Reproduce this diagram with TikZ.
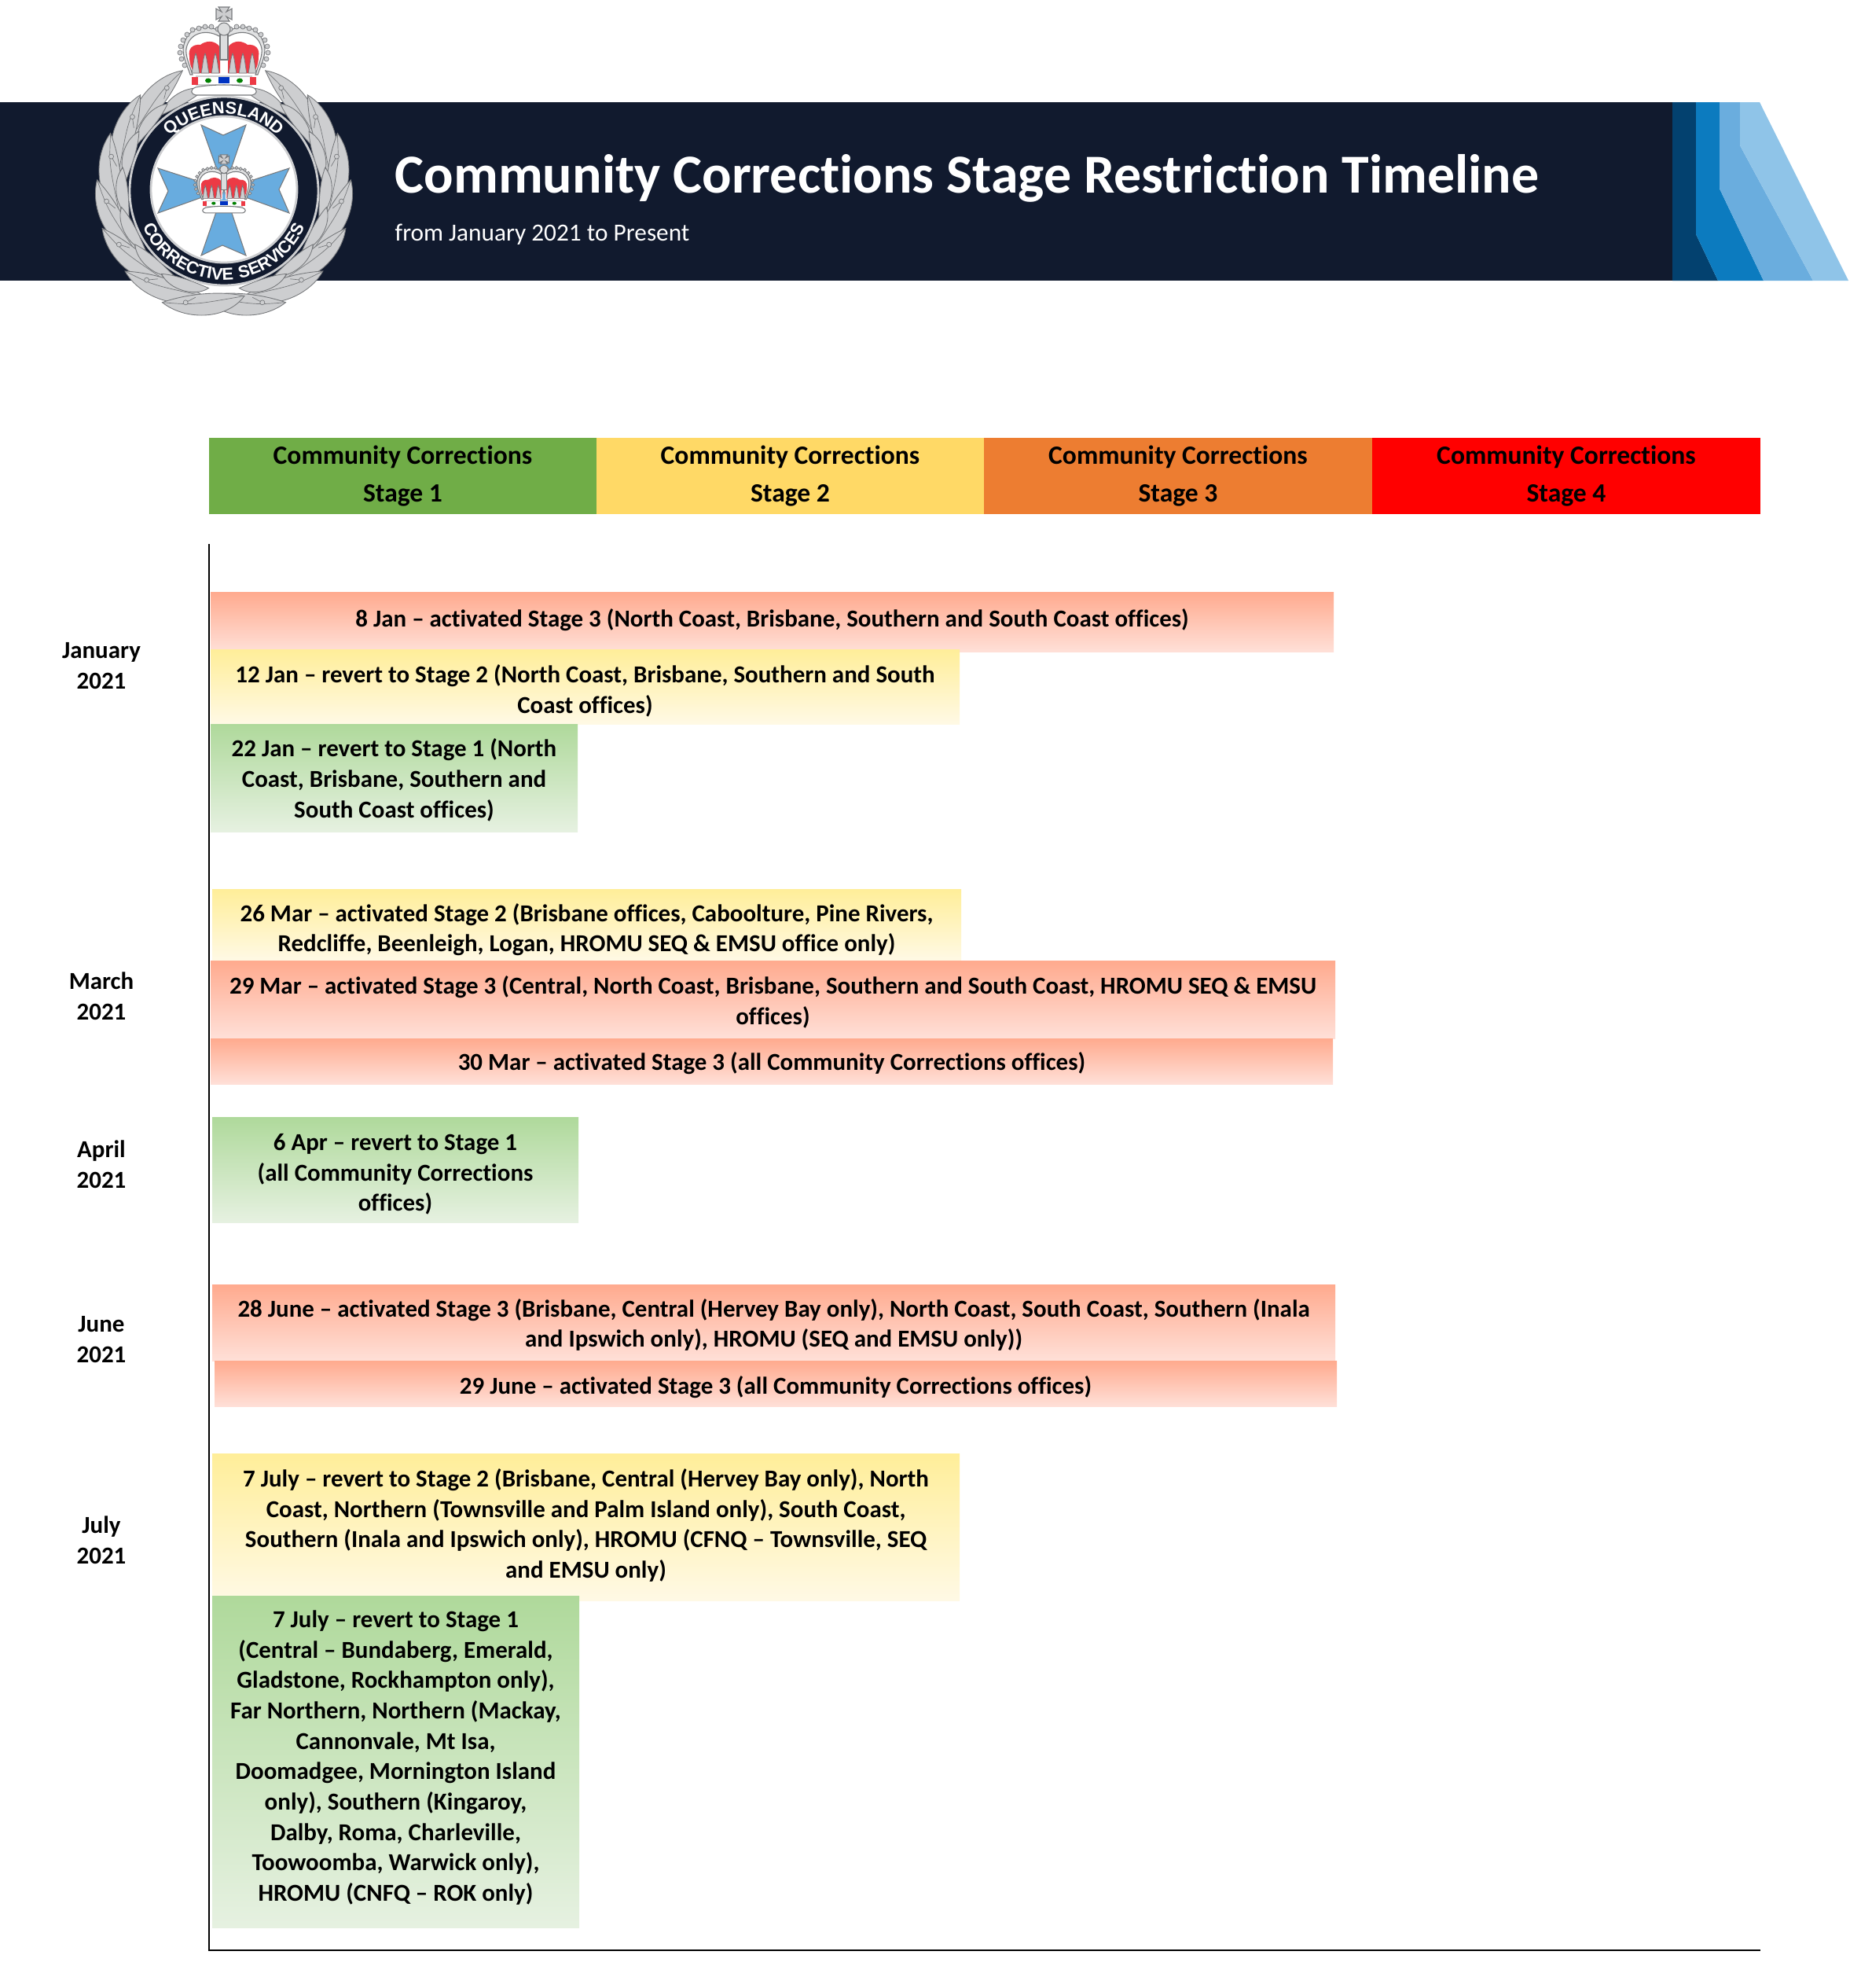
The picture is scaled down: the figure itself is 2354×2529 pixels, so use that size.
\documentclass[tikz,border=0pt]{standalone}
\usepackage{fontspec}
\setmainfont[Ligatures=NoCommon]{Carlito}
\newfontfamily\badgefont[LetterSpace=8]{Liberation Sans}
\usetikzlibrary{decorations.text}

\definecolor{navy}{HTML}{111A2E}
\definecolor{stripeA}{HTML}{03416F}
\definecolor{stripeB}{HTML}{0C7BBF}
\definecolor{stripeC}{HTML}{6AADDE}
\definecolor{stripeD}{HTML}{8FC4E8}
\definecolor{silver}{HTML}{CDCED0}
\definecolor{edgegrey}{HTML}{77797C}
\definecolor{crownred}{HTML}{EC3A45}
\definecolor{crossblue}{HTML}{68ACDF}
\definecolor{stageone}{HTML}{70AD47}
\definecolor{stagetwo}{HTML}{FFD966}
\definecolor{stagethree}{HTML}{ED7D31}
\definecolor{stagefour}{HTML}{FF0000}
\definecolor{redtop}{HTML}{FFAA8E}
\definecolor{redend}{HTML}{FFE0D8}
\definecolor{yellowtop}{HTML}{FFEE99}
\definecolor{yellowend}{HTML}{FFF9E5}
\definecolor{greentop}{HTML}{AFD99B}
\definecolor{greenend}{HTML}{E6F1E1}

\tikzset{
  redbar/.style={top color=redtop, bottom color=redend},
  yellowbar/.style={top color=yellowtop, bottom color=yellowend},
  greenbar/.style={top color=greentop, bottom color=greenend},
  bartext/.style={font=\fontsize{8.8}{11}\selectfont\bfseries, align=center, inner sep=0pt, text=black},
  headtext/.style={font=\fontsize{9.55}{13.7}\selectfont\bfseries, align=center, inner sep=0pt, text=black},
  monthtext/.style={font=\fontsize{8.8}{11}\selectfont\bfseries, align=center, inner sep=0pt, text=black},
  leaf/.style={fill=silver, draw=edgegrey, line width=0.25pt},
  crown/.pic={
    \foreach \s in {-1,1} {
      \begin{scope}[xscale=\s]
        % arch with its beads
        \fill[white] (3,44) .. controls (20,28) and (48,32) .. (52,62) .. controls (52,75) and (46,85) .. (43,95) -- (3,95) -- cycle;
        \draw[fill=silver!60!white, draw=edgegrey, line width=0.3pt] (3,42) .. controls (20,28) and (48,32) .. (52,62)
          .. controls (52,75) and (46,85) .. (43,95) -- (40,95) .. controls (44,82) and (49,72) .. (48,62) .. controls (44,40) and (20,36) .. (3,48) -- cycle;
        \foreach \a/\b in {8/37,16/34,24/34,32/36,40/38,47/44,52/51,55/59,56/67,54/75,50/83} {
          \fill[silver, draw=edgegrey, line width=0.2pt] (\a,\b) circle (3);
        }
        % velvet cap
        \fill[crownred] (5,60) .. controls (12,50) and (24,52) .. (30,57) .. controls (40,56) and (46,62) .. (44,72) .. controls (44,80) and (42,86) .. (38,93) -- (5,93) -- cycle;
        % fleurs
        \foreach \a in {11,24,36} {
          \fill[silver, draw=edgegrey, line width=0.2pt] (\a,68) .. controls (\a+3,76) and (\a+3,85) .. (\a+5,93) -- (\a-5,93) .. controls (\a-3,85) and (\a-3,76) .. (\a,68) -- cycle;
        }
      \end{scope}
    }
    \fill[silver!70!white, draw=edgegrey, line width=0.3pt] (-5,44) rectangle (5,76);
    \fill[silver!70!white, draw=edgegrey, line width=0.3pt] (0,37) circle (8);
    % cross on the orb
    \fill[silver, draw=edgegrey, line width=0.3pt] (-7,9) -- (7,9) -- (3,15) -- (10,11) -- (10,25) -- (3,21) -- (7,27) -- (-7,27) -- (-3,21) -- (-10,25) -- (-10,11) -- (-3,15) -- cycle;
    % bands
    \fill[white, draw=silver, line width=0.3pt] (-35,97) rectangle (35,108);
    \foreach \s in {-1,1} {
      \fill[crownred] (\s*33,98) rectangle (\s*41,108);
      \fill[green!50!black] (\s*20,102.5) ellipse (4 and 3);
    }
    \fill[blue!70!black!80!cyan] (-7,98) rectangle (7,106);
    \draw[fill=white, draw=edgegrey, line width=0.3pt] (-36,111) .. controls (-15,107) and (15,107) .. (36,111)
      .. controls (44,114) and (42,120) .. (36,121) -- (-36,121) .. controls (-42,120) and (-44,114) .. (-36,111) -- cycle;
  }
}

\begin{document}
\begin{tikzpicture}[x=0.01cm,y=-0.01cm]
  \useasboundingbox (0,0) rectangle (2354,2529);

  % banner
  \fill[navy] (0,130) rectangle (2130,357);
  \fill[stripeA] (2128,130) -- (2158,130) -- (2158,298) -- (2186,357) -- (2128,357) -- cycle;
  \fill[stripeB] (2158,130) -- (2188,130) -- (2188,240) -- (2244,357) -- (2186,357) -- (2158,298) -- cycle;
  \fill[stripeC] (2188,130) -- (2214,130) -- (2214,185) -- (2307,357) -- (2244,357) -- (2188,240) -- cycle;
  \fill[stripeD] (2214,130) -- (2239,130) -- (2352,357) -- (2307,357) -- (2214,185) -- cycle;
  \node[anchor=base west, inner sep=0pt, text=white, font=\fontsize{19.88}{24}\selectfont\bfseries] (title) at (502,245) {Community Corrections Stage Restriction Timeline};
  \node[anchor=base west, inner sep=0pt, text=white, font=\fontsize{8.9}{11}\selectfont] (subtitle) at (502,306) {from January 2021 to Present};

  % badge
  \begin{scope}[shift={(285,243)}]
    \foreach \s in {-1,1} {
      \begin{scope}[xscale=\s]
        \foreach \t in {251,229,207,185,163,141,119} {
          \draw[leaf] (\t:162) .. controls (\t-12:172) and (\t-30:165) .. (\t-40:136)
            .. controls (\t-30:128) and (\t-12:134) .. (\t:162) -- cycle;
          \draw[edgegrey, line width=0.2pt] (\t:162) .. controls (\t-14:150) .. (\t-40:136);
          \draw[leaf] (\t+8:132) .. controls (\t:144) and (\t-14:140) .. (\t-20:125)
            .. controls (\t-12:122) and (\t:122) .. (\t+8:132) -- cycle;
          \draw[edgegrey, line width=0.2pt] (\t-14:140) -- (\t-10:150);
          \fill[silver, draw=edgegrey, line width=0.2pt] (\t-10:150) circle (3);
        }
      \end{scope}
    }
    \fill[navy, draw=silver, line width=0.8pt] (0,0) circle (120);
    \fill[white, draw=silver, line width=0.8pt] (0,-2) circle (93);
    \path[decorate, decoration={text along path, text align=center,
      text={|\badgefont\fontsize{6.2}{8}\selectfont\bfseries\color{white}|QUEENSLAND}}]
      (-150:98) arc (-150:-30:98);
    \path[decorate, decoration={text along path, text align=center,
      text={|\badgefont\fontsize{6.2}{8}\selectfont\bfseries\color{white}|CORRECTIVE SERVICES}}]
      (175:113) arc (175:5:113);
    % cross
    \fill[crossblue, draw=edgegrey, line width=0.3pt] (0,-2) -- (-29,-84) -- (-1,-71) -- (28,-84) -- (0,-2)
      -- (83,-29) -- (70,-2) -- (83,28) -- (0,-2)
      -- (28,82) -- (-2,69) -- (-29,82) -- (0,-2)
      -- (-84,28) -- (-71,0) -- (-84,-29) -- cycle;
  \end{scope}
  \pic at (285,0) {crown};
  \pic[scale=0.66] at (285,191) {crown};

  % stage headings
  \fill[stageone] (266,557) rectangle (759,654) node[midway, headtext] (stagea) {Community Corrections\\Stage 1};
  \fill[stagetwo] (759,557) rectangle (1252,654) node[midway, headtext] (stageb) {Community Corrections\\Stage 2};
  \fill[stagethree] (1252,557) rectangle (1746,654) node[midway, headtext] (stagec) {Community Corrections\\Stage 3};
  \fill[stagefour] (1746,557) rectangle (2240,654) node[midway, headtext] (staged) {Community Corrections\\Stage 4};

  % axes
  \coordinate (axistop) at (266,692);
  \coordinate (origin) at (266,2481);
  \coordinate (axisend) at (2240,2481);
  \draw[black, line width=0.7pt] (axistop) -- (origin) -- (axisend);

  % months
  \node[monthtext] (january) at (129,847) {January\\2021};
  \node[monthtext] (march) at (129,1267) {March\\2021};
  \node[monthtext] (april) at (129,1481) {April\\2021};
  \node[monthtext] (june) at (129,1704) {June\\2021};
  \node[monthtext] (july) at (129,1959) {July\\2021};

  % events
  \path[redbar] (268,753) rectangle (1697,829) node[midway, bartext, yshift=0.02cm] (janeight) {8 Jan – activated Stage 3 (North Coast, Brisbane, Southern and South Coast offices)};
  \path[yellowbar] (268,826) rectangle (1221,921) node[midway, bartext, yshift=-0.05cm] (jantwelve) {12 Jan – revert to Stage 2 (North Coast, Brisbane, Southern and South\\Coast offices)};
  \path[greenbar] (268,921) rectangle (735,1058) node[midway, bartext, yshift=-0.03cm] (jantwentytwo) {22 Jan – revert to Stage 1 (North\\Coast, Brisbane, Southern and\\South Coast offices)};
  \path[yellowbar] (270,1131) rectangle (1223,1222) node[midway, bartext, yshift=-0.06cm] (marone) {26 Mar – activated Stage 2 (Brisbane offices, Caboolture, Pine Rivers,\\Redcliffe, Beenleigh, Logan, HROMU SEQ \& EMSU office only)};
  \path[redbar] (268,1222) rectangle (1699,1321) node[midway, bartext, yshift=-0.03cm] (martwo) {29 Mar – activated Stage 3 (Central, North Coast, Brisbane, Southern and South Coast, HROMU SEQ \& EMSU\\offices)};
  \path[redbar] (268,1321) rectangle (1696,1379) node[midway, bartext, yshift=-0.03cm] (marthree) {30 Mar – activated Stage 3 (all Community Corrections offices)};
  \path[greenbar] (270,1421) rectangle (736,1555) node[midway, bartext, yshift=-0.06cm] (aprsix) {6 Apr – revert to Stage 1\\(all Community Corrections\\offices)};
  \path[redbar] (270,1634) rectangle (1699,1731) node[midway, bartext, yshift=-0.03cm] (juneone) {28 June – activated Stage 3 (Brisbane, Central (Hervey Bay only), North Coast, South Coast, Southern (Inala\\and Ipswich only), HROMU (SEQ and EMSU only))};
  \path[redbar] (273,1731) rectangle (1701,1789) node[midway, bartext, yshift=-0.05cm] (junetwo) {29 June – activated Stage 3 (all Community Corrections offices)};
  \path[yellowbar] (270,1849) rectangle (1221,2036) node[midway, bartext, yshift=0.02cm] (julyone) {7 July – revert to Stage 2 (Brisbane, Central (Hervey Bay only), North\\Coast, Northern (Townsville and Palm Island only), South Coast,\\Southern (Inala and Ipswich only), HROMU (CFNQ – Townsville, SEQ\\and EMSU only)};
  \path[greenbar] (270,2030) rectangle (737,2452) node[midway, bartext, yshift=0.05cm] (julytwo) {7 July – revert to Stage 1\\(Central – Bundaberg, Emerald,\\Gladstone, Rockhampton only),\\Far Northern, Northern (Mackay,\\Cannonvale, Mt Isa,\\Doomadgee, Mornington Island\\only), Southern (Kingaroy,\\Dalby, Roma, Charleville,\\Toowoomba, Warwick only),\\HROMU (CNFQ – ROK only)};
\end{tikzpicture}
\end{document}
